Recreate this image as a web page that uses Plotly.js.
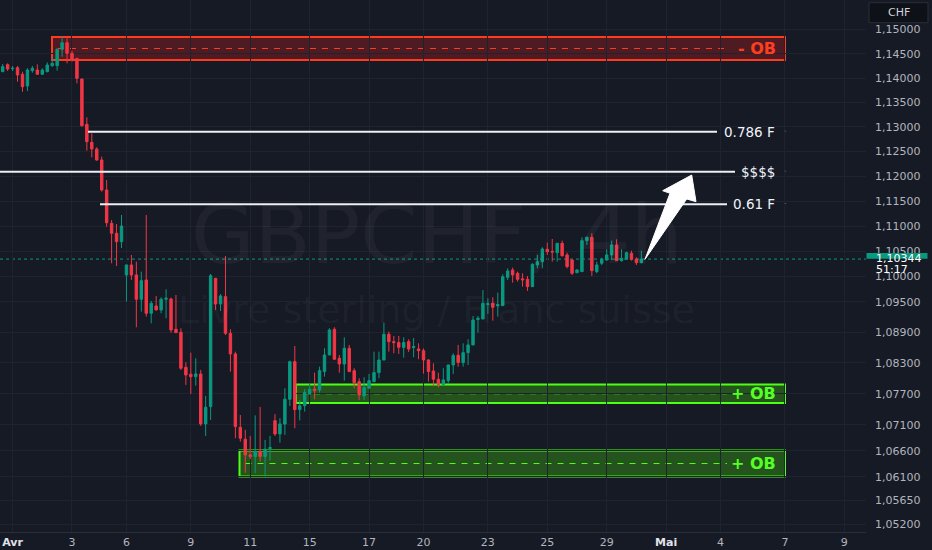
<!DOCTYPE html>
<html><head><meta charset="utf-8">
<script src="https://cdn.plot.ly/plotly-3.0.1.min.js"></script>
<style>html,body{margin:0;padding:0;background:#161a25;}#chart{width:932px;height:550px;}</style>
</head><body><div id="chart"></div>
<script>
// ---- data (GBPCHF, 4h candles, Paris time) ----
const firstCandle = '2025-03-31 19:00';
const open = [1.14130,1.14274,1.14190,1.14212,1.14077,1.13836,1.14151,1.14165,1.14077,1.14130,
1.14253,1.14253,1.14590,1.14727,1.14508,1.14405,1.13980,1.13054,1.12688,1.12553,
1.12330,1.11725,1.11057,1.10858,1.10690,1.10029,1.10227,1.10029,1.09549,1.09930,
1.09273,1.09417,1.09338,1.09549,1.09555,1.08959,1.08900,1.08216,1.08080,1.08033,
1.08086,1.07118,1.07452,1.09963,1.09456,1.09600,1.08880,1.08476,1.07053,1.06823,
1.06522,1.06490,1.06586,1.06490,1.06643,1.07181,1.06925,1.07114,1.07594,1.08325,
1.07394,1.07469,1.07697,1.07789,1.07775,1.08131,1.08456,1.08959,1.08391,1.08280,
1.08587,1.08150,1.07936,1.07659,1.07808,1.07936,1.08112,1.08358,1.08861,1.08716,
1.08697,1.08603,1.08716,1.08600,1.08573,1.08540,1.08358,1.08144,1.07983,1.07882,
1.07955,1.08261,1.08450,1.08306,1.08501,1.08652,1.09151,1.09161,1.09446,1.09470,
1.09417,1.09423,1.09983,1.10128,1.10062,1.09953,1.09943,1.09798,1.10227,1.10293,
1.10539,1.10495,1.10472,1.10658,1.10426,1.10326,1.10075,1.10095,1.10711,1.10778,
1.10095,1.10261,1.10326,1.10426,1.10625,1.10313,1.10340,1.10460,1.10346,1.10273];
const high = [1.14288,1.14302,1.14247,1.14247,1.14130,1.14200,1.14247,1.14281,1.14200,1.14323,
1.14438,1.14611,1.14851,1.14818,1.14562,1.14410,1.13985,1.13197,1.12871,1.12588,
1.12397,1.11927,1.11123,1.11043,1.11223,1.10235,1.10426,1.10293,1.10094,1.11223,
1.09515,1.09614,1.09588,1.09746,1.09580,1.09633,1.08978,1.08313,1.08501,1.08391,
1.08164,1.07659,1.10049,1.09970,1.09653,1.10406,1.08959,1.08521,1.07291,1.07002,
1.06887,1.07282,1.07446,1.06810,1.06887,1.07306,1.07228,1.07808,1.08345,1.08631,
1.07581,1.07794,1.07905,1.08112,1.08228,1.08587,1.08978,1.08998,1.08456,1.08802,
1.08652,1.08197,1.08002,1.08022,1.08086,1.08521,1.08521,1.09088,1.08912,1.08828,
1.08828,1.08802,1.08763,1.08788,1.08684,1.08583,1.08372,1.08293,1.08112,1.08197,
1.08267,1.08489,1.08652,1.08684,1.08763,1.09220,1.09220,1.09732,1.09569,1.09588,
1.09679,1.10043,1.10161,1.10174,1.10094,1.10062,1.10009,1.10261,1.10426,1.10579,
1.10672,1.10744,1.10665,1.10711,1.10472,1.10340,1.10142,1.10778,1.10791,1.10858,
1.10293,1.10372,1.10539,1.10711,1.10738,1.10539,1.10492,1.10512,1.10380,1.10512];
const low = [1.14120,1.14144,1.14144,1.13924,1.13719,1.13733,1.14110,1.14070,1.14062,1.14117,
1.14233,1.14151,1.14438,1.14302,1.14335,1.13891,1.13006,1.12519,1.12385,1.12316,
1.11691,1.10989,1.10261,1.10207,1.10565,1.09502,1.09930,1.08998,1.09305,1.09207,
1.09076,1.09330,1.09273,1.09174,1.08892,1.08885,1.08164,1.07872,1.07697,1.07858,
1.07079,1.06887,1.07195,1.09338,1.09318,1.08847,1.08131,1.06843,1.06777,1.06178,
1.06439,1.06172,1.06394,1.06110,1.06416,1.06887,1.06758,1.06906,1.07465,1.07034,
1.07185,1.07355,1.07688,1.07595,1.07723,1.08033,1.08450,1.08365,1.08112,1.07955,
1.08125,1.07808,1.07581,1.07581,1.07800,1.07930,1.08002,1.08350,1.08521,1.08489,
1.08476,1.08403,1.08515,1.08411,1.08372,1.08092,1.07936,1.07853,1.07827,1.07853,
1.07904,1.08086,1.08228,1.08228,1.08261,1.08645,1.08892,1.09155,1.09259,1.09127,
1.09207,1.09417,1.09930,1.09877,1.09897,1.09798,1.09713,1.09790,1.10161,1.10161,
1.10426,1.10293,1.10293,1.10392,1.10161,1.10029,1.10062,1.10088,1.10625,1.10009,
1.10062,1.10227,1.10313,1.10326,1.10306,1.10293,1.10326,1.10313,1.10227,1.10261];
const close = [1.14233,1.14186,1.14200,1.14062,1.13822,1.14165,1.14200,1.14077,1.14165,1.14268,
1.14302,1.14590,1.14727,1.14508,1.14370,1.13994,1.13026,1.12701,1.12553,1.12330,
1.11725,1.11069,1.10858,1.10690,1.11003,1.10227,1.10029,1.09549,1.09916,1.09273,
1.09470,1.09338,1.09549,1.09569,1.08945,1.08892,1.08197,1.08066,1.08033,1.08086,
1.07118,1.07440,1.10015,1.09456,1.09614,1.08880,1.08476,1.07066,1.06843,1.06522,
1.06490,1.06586,1.06490,1.06631,1.06662,1.06925,1.07118,1.07596,1.08325,1.07394,
1.07469,1.07726,1.07789,1.07761,1.08150,1.08456,1.08945,1.08372,1.08280,1.08587,
1.08131,1.07917,1.07678,1.07820,1.07955,1.08112,1.08358,1.08861,1.08716,1.08697,
1.08607,1.08697,1.08573,1.08619,1.08540,1.08358,1.08131,1.07983,1.07878,1.07969,
1.08261,1.08446,1.08309,1.08501,1.08652,1.09141,1.09174,1.09470,1.09460,1.09391,
1.09446,1.09995,1.10108,1.10029,1.09943,1.09934,1.09798,1.10241,1.10293,1.10545,
1.10491,1.10486,1.10658,1.10412,1.10194,1.10062,1.10128,1.10711,1.10778,1.10114,
1.10227,1.10340,1.10426,1.10625,1.10313,1.10360,1.10472,1.10340,1.10273,1.10344];

const lastPrice = 1.10344;
const countdown = '51:17';
const currency = 'CHF';
const priceTicks = [1.15,1.145,1.14,1.135,1.13,1.125,1.12,1.115,1.11,1.105,1.10,1.095,1.089,1.083,1.077,1.071,1.066,1.061,1.0565,1.052];
const dayTicks = ['2025-04-01 03:00','2025-04-03 03:00','2025-04-06 23:00','2025-04-09 03:00','2025-04-11 03:00',
  '2025-04-15 03:00','2025-04-17 03:00','2025-04-20 23:00','2025-04-23 03:00','2025-04-25 03:00',
  '2025-04-29 03:00','2025-05-01 03:00','2025-05-04 23:00','2025-05-07 03:00','2025-05-09 03:00'];
const dayLabels = ['Avr','3','6','9','11','15','17','20','23','25','29','Mai','4','7','9'];
const monthLabels = ['Avr','Mai'];
const weekendCloses = ['2025-04-04 23:00','2025-04-11 23:00','2025-04-18 23:00','2025-04-25 23:00','2025-05-02 23:00','2025-05-09 23:00'];
const levelNames = ['0.786 F','$$$$','0.61 F'];
const levelPrices = [1.12904, 1.12093, 1.11438];
const zoneNames = ['- OB','+ OB','+ OB'];
const zoneTop = [1.14845, 1.07881, 1.06606];
const zoneBottom = [1.14370, 1.07522, 1.06109];
const symbolTitle = 'GBPCHF, 4h';
const symbolName = 'Livre sterling / Franc suisse';

// ---- session calendar: 4h bars, market closed Fri 23:00 -> Sun 23:00 ----
function pad(n){return String(n).padStart(2,'0');}
function sessionTimes(start, n){
  const [d,t] = start.split(' ');
  const [Y,M,D] = d.split('-').map(Number);
  let ms = Date.UTC(Y, M-1, D, +t.split(':')[0]);
  const out = [];
  while(out.length < n){
    const dt = new Date(ms), w = dt.getUTCDay(), h = dt.getUTCHours();
    const closed = w===6 || (w===0 && h<23) || (w===5 && h>=23);
    if(!closed) out.push(dt.getUTCFullYear()+'-'+pad(dt.getUTCMonth()+1)+'-'+pad(dt.getUTCDate())+' '+pad(h)+':00');
    ms += 4*3600e3;
  }
  return out;
}
const times = sessionTimes(firstCandle, open.length);

// ---- layout geometry ----
const W = 932, H = 550, PR = 66, PB = 18;
const PW = W - PR, PH = H - PB;
const L = v => Math.log10(v);       // annotations on a log axis use log10 values
const px = x => x / PW;             // pixel x -> paper
const py = y => 1 - y / PH;         // pixel y -> paper
const fmt = v => v.toFixed(5).replace('.', ',');

const BG = '#161a25', GRID = '#1f2330', TXT = '#b2b5be';
const UP = '#089981', DOWN = '#f23645';

const zoneStyle = [
  {left:52, right:785, dashEnd:730, fill:'rgba(255,35,20,0.24)', line:'#ff3b1f', text:'#ff3d20'},
  {left:296, right:785, dashEnd:727, fill:'rgba(80,255,10,0.25)', line:'#4cff14', text:'#55ff22'},
  {left:239.5, right:785, dashEnd:727, fill:'rgba(80,255,10,0.25)', line:'#4cff14', text:'#55ff22'}
];
const levelStyle = [{x0:88, x1:717},{x0:0, x1:735},{x0:100, x1:727}];

const shapes = [];
const annotations = [];

// zones
zoneNames.forEach((name,i)=>{
  const s = zoneStyle[i];
  const mid = Math.sqrt(zoneTop[i]*zoneBottom[i]);
  shapes.push({type:'rect', xref:'paper', yref:'y', x0:px(s.left), x1:px(s.right), y0:zoneBottom[i], y1:zoneTop[i],
    fillcolor:s.fill, line:{color:s.line, width:2}, layer:'between'});
  shapes.push({type:'line', xref:'paper', yref:'y', x0:px(s.left+6), x1:px(s.dashEnd), y0:mid, y1:mid,
    line:{color:s.line, width:1, dash:'6px,6px'}, layer:'between'});
  annotations.push({xref:'paper', yref:'y', x:px(778), y:L(mid), xanchor:'right', yanchor:'middle', showarrow:false,
    text:'<b>'+name+'</b>', font:{family:'DejaVu Sans', size:16, color:s.text}});
});

// current price dotted line
shapes.push({type:'line', xref:'paper', yref:'y', x0:0, x1:1, y0:lastPrice, y1:lastPrice,
  line:{color:UP, width:1, dash:'dot'}, layer:'between'});

// fib / target levels
levelNames.forEach((name,i)=>{
  const s = levelStyle[i];
  shapes.push({type:'line', xref:'paper', yref:'y', x0:px(s.x0), x1:px(s.x1), y0:levelPrices[i], y1:levelPrices[i],
    line:{color:'#eceff4', width:2}, layer:'above'});
  annotations.push({xref:'paper', yref:'y', x:px(777), y:L(levelPrices[i]), xanchor:'right', yanchor:'middle', showarrow:false,
    text:name, font:{family:'DejaVu Sans', size:13.5, color:'#f0f3fa'}});
  shapes.push({type:'circle', xref:'paper', yref:'y', xsizemode:'pixel', ysizemode:'pixel',
    xanchor:px(785.5), yanchor:levelPrices[i], x0:-1, x1:1, y0:-1, y1:1,
    fillcolor:'#9598a1', line:{width:0}, layer:'above'});
});

// arrow
const arrowPts = [[645,259.3],[670,193.3],[662.7,190.7],[691.7,175],[696,201.7],[686.7,199]];
shapes.push({type:'path', xref:'paper', yref:'paper',
  path:'M'+arrowPts.map(p=>px(p[0]).toFixed(5)+','+py(p[1]).toFixed(5)).join(' L')+' Z',
  fillcolor:'#ffffff', line:{color:'#ffffff', width:1}, layer:'above'});

// price label on the axis
shapes.push({type:'rect', xref:'paper', yref:'y', ysizemode:'pixel', yanchor:lastPrice,
  x0:px(866.5), x1:px(927.5), y0:-18, y1:6, fillcolor:UP, line:{width:0}, layer:'above'});
annotations.push({xref:'paper', yref:'y', x:px(874), y:L(lastPrice), yshift:0.5, xanchor:'left', yanchor:'middle', showarrow:false,
  text:fmt(lastPrice), font:{family:'DejaVu Sans', size:11, color:'#ffffff'}});
annotations.push({xref:'paper', yref:'y', x:px(874), y:L(lastPrice), yshift:-10.5, xanchor:'left', yanchor:'middle', showarrow:false,
  text:countdown, font:{family:'DejaVu Sans', size:11, color:'#ffffff'}});

// currency box
shapes.push({type:'rect', xref:'paper', yref:'paper', x0:px(869), x1:px(928), y0:py(22.7), y1:py(2.7),
  fillcolor:'#0e1118', line:{color:'#2a2e39', width:1}, layer:'above'});
annotations.push({xref:'paper', yref:'paper', x:px(898.5), y:py(12.7), xanchor:'center', yanchor:'middle', showarrow:false,
  text:currency, font:{family:'DejaVu Sans', size:11, color:'#d1d4dc'}});

// watermark
annotations.push({xref:'paper', yref:'paper', x:px(437), y:py(235), xanchor:'center', yanchor:'middle', showarrow:false,
  text:symbolTitle, font:{family:'DejaVu Sans', size:82, color:'rgba(255,255,255,0.045)'}});
annotations.push({xref:'paper', yref:'paper', x:px(436), y:py(310), xanchor:'center', yanchor:'middle', showarrow:false,
  text:symbolName, font:{family:'DejaVu Sans', size:38, color:'rgba(255,255,255,0.045)'}});

const trace = {
  type:'candlestick', x:times, open:open, high:high, low:low, close:close,
  increasing:{line:{color:UP, width:1}, fillcolor:UP},
  decreasing:{line:{color:DOWN, width:1}, fillcolor:DOWN},
  whiskerwidth:0, hoverinfo:'skip'
};

const layout = {
  width:W, height:H, margin:{l:0, r:PR, t:0, b:PB, pad:0},
  paper_bgcolor:BG, plot_bgcolor:BG, showlegend:false, hovermode:false, dragmode:false,
  xaxis:{type:'date', range:['2025-03-31 16:50','2025-05-09 20:30'],
    rangebreaks:[{values:weekendCloses, dvalue:48*3600e3}],
    rangeslider:{visible:false}, tickmode:'array', tickvals:dayTicks,
    ticktext:dayLabels.map(t=>monthLabels.includes(t)?'<b><span style="color:#e1e3ea">'+t+'</span></b>':t),
    showgrid:true, gridcolor:GRID, gridwidth:1, zeroline:false, showline:true, linecolor:'#2a2e39', linewidth:1,
    ticks:'', tickfont:{family:'DejaVu Sans', size:11, color:TXT}, fixedrange:true},
  yaxis:{type:'log', side:'right', range:[L(1.050538), L(1.156124)], tickmode:'array', tickvals:priceTicks,
    ticktext:priceTicks.map(fmt), showgrid:true, gridcolor:GRID, gridwidth:1, zeroline:false,
    showline:false, ticks:'', ticklabelstandoff:8,
    tickfont:{family:'DejaVu Sans', size:11, color:TXT}, fixedrange:true},
  shapes:shapes, annotations:annotations
};

Plotly.newPlot('chart', [trace], layout, {staticPlot:true, displayModeBar:false});
</script></body></html>
